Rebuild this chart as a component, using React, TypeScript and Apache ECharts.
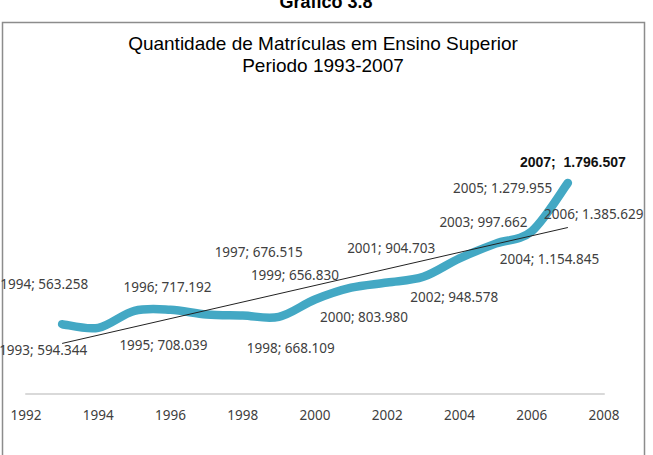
import React, { useEffect, useRef } from "react";
import * as echarts from "echarts";

const years = [1993, 1994, 1995, 1996, 1997, 1998, 1999, 2000, 2001, 2002, 2003, 2004, 2005, 2006, 2007];
const enrolments = [594344, 563258, 708039, 717192, 676515, 668109, 656830, 803980, 904703, 948578, 997662, 1154845, 1279955, 1385629, 1796507];
const trendYears = [1993, 2007];
const trendValues = [430400, 1417000];
const xTicks = { min: 1992, max: 2008, interval: 2 };
const chartTitle = "Quantidade de Matrículas em Ensino Superior\nPeriodo 1993-2007";
const pageTitle = "Gráfico 3.8";

// label placement (pixel offsets from each point), as in the reference
const labelOffsets: [number, number][] = [
  [-19, 26], [-54, -44], [29, 34], [-3, -23], [52, -63], [48, 33], [16, -42],
  [49, 17], [40, -40], [67, 14], [60, -55], [90, 1], [7, -56], [62, -17], [5, -21],
];

const LINE_COLOR = "#43a8c4";

const fmt = (v: number) => String(v).replace(/\B(?=(\d{3})+(?!\d))/g, ".");

export default function App() {
  const ref = useRef<HTMLDivElement>(null);
  useEffect(() => {
    if (!ref.current) return;
    const chart = echarts.init(ref.current, undefined, { renderer: "svg" });
    const last = years.length - 1;
    const points = years.map((y, i) => [y, enrolments[i]]);
    const lineData = years.map((y, i) => ({
      value: [y, enrolments[i]],
      label: {
        show: true,
        position: "inside",
        align: "center",
        verticalAlign: "middle",
        offset: labelOffsets[i],
        formatter: i === last ? `${y};  ${fmt(enrolments[i])}` : `${y}; ${fmt(enrolments[i])}`,
        fontFamily: i === last ? "Liberation Sans" : "Noto Sans",
        fontSize: i === last ? 14 : 13.5,
        fontWeight: i === last ? "bold" : "normal",
        color: i === last ? "#111111" : "#404040",
      },
    }));
    chart.setOption({
      animation: false,
      backgroundColor: "#ffffff",
      graphic: [
        {
          type: "rect",
          shape: { x: 2.5, y: 22.5, width: 642, height: 460 },
          style: { fill: "none", stroke: "#8c8c8c", lineWidth: 1.5 },
          z: 0,
        },
        {
          type: "text",
          x: 326,
          y: 2,
          style: {
            text: pageTitle,
            fontFamily: "Liberation Sans",
            fontSize: 18,
            fontWeight: "bold",
            fill: "#000000",
            align: "center",
            verticalAlign: "middle",
          },
        },
        {
          type: "text",
          x: 323,
          y: 54,
          style: {
            text: chartTitle,
            fontFamily: "Liberation Sans",
            fontSize: 19,
            lineHeight: 22,
            fill: "#000000",
            align: "center",
            verticalAlign: "middle",
          },
        },
      ],
      grid: { left: 26, right: 49, top: 159, bottom: 61, containLabel: false },
      xAxis: {
        type: "value",
        min: xTicks.min,
        max: xTicks.max,
        interval: xTicks.interval,
        axisLine: { show: true, lineStyle: { color: "#d9d9d9", width: 2 } },
        axisTick: { show: false },
        splitLine: { show: false },
        axisLabel: {
          margin: 14,
          color: "#404040",
          fontFamily: "Noto Sans",
          fontSize: 13.5,
          formatter: (v: number) => String(v),
        },
      },
      yAxis: {
        type: "value",
        min: 0,
        max: 2000000,
        show: false,
        splitLine: { show: false },
      },
      series: [
        {
          type: "custom",
          data: points,
          encode: { x: 0, y: 1 },
          clip: false,
          silent: true,
          z: 3,
          renderItem: (params: any, api: any) => {
            if (params.dataIndex !== 0) return { type: "group", children: [] };
            const p = points.map((pt) => api.coord(pt));
            const n = p.length;
            let d = `M${p[0][0]},${p[0][1]}`;
            for (let i = 0; i < n - 1; i++) {
              const p0 = p[Math.max(i - 1, 0)];
              const p1 = p[i];
              const p2 = p[i + 1];
              const p3 = p[Math.min(i + 2, n - 1)];
              const c1x = p1[0] + (p2[0] - p0[0]) / 6;
              const c1y = p1[1] + (p2[1] - p0[1]) / 6;
              const c2x = p2[0] - (p3[0] - p1[0]) / 6;
              const c2y = p2[1] - (p3[1] - p1[1]) / 6;
              d += ` C${c1x},${c1y} ${c2x},${c2y} ${p2[0]},${p2[1]}`;
            }
            return {
              type: "path",
              shape: { pathData: d },
              style: {
                fill: "none",
                stroke: LINE_COLOR,
                lineWidth: 8.5,
                lineCap: "round",
                lineJoin: "round",
              },
            };
          },
        },
        {
          type: "line",
          data: lineData,
          symbol: "circle",
          symbolSize: 1,
          itemStyle: { color: "rgba(0,0,0,0)" },
          lineStyle: { width: 0, color: "rgba(0,0,0,0)" },
          z: 5,
        },
        {
          type: "line",
          data: trendYears.map((y, i) => [y, trendValues[i]]),
          symbol: "none",
          lineStyle: { color: "#222222", width: 1 },
          z: 4,
          silent: true,
        },
      ],
    });
    return () => chart.dispose();
  }, []);
  return (
    <div
      ref={ref}
      style={{ position: "fixed", left: 0, top: 0, width: 653, height: 455 }}
    />
  );
}
